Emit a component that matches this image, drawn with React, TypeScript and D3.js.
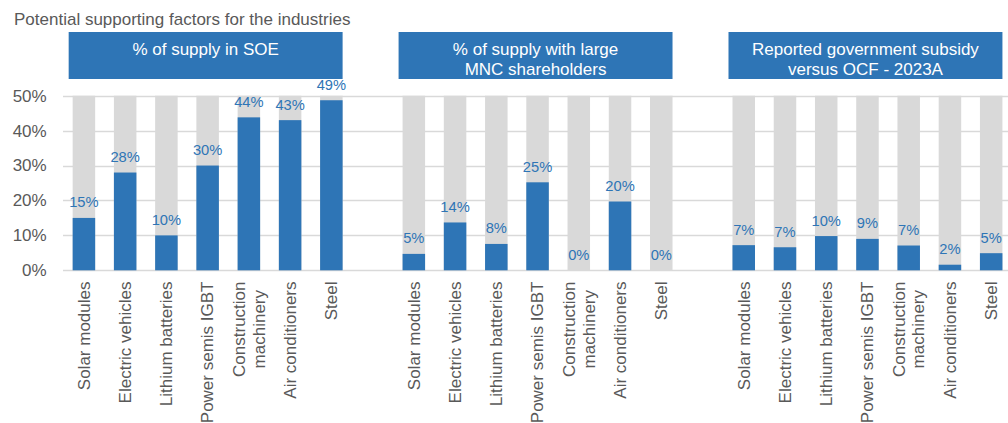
import React, { useEffect, useRef } from 'react';
import * as d3 from 'd3';

const TITLE = 'Potential supporting factors for the industries';
const categories = [
  'Solar modules',
  'Electric vehicles',
  'Lithium batteries',
  'Power semis IGBT',
  'Construction\nmachinery',
  'Air conditioners',
  'Steel',
];
const groupTitles = [
  ['% of supply in SOE'],
  ['% of supply with large', 'MNC shareholders'],
  ['Reported government subsidy', 'versus OCF - 2023A'],
];
const soeShare = [0.15, 0.28, 0.1, 0.3, 0.438, 0.43, 0.487];
const mncShare = [0.047, 0.137, 0.0755, 0.252, 0, 0.197, 0];
const subsidyShare = [0.072, 0.066, 0.098, 0.09, 0.071, 0.016, 0.049];
const yTicks = [0, 0.1, 0.2, 0.3, 0.4, 0.5];
const yMax = 0.5;

const W = 1008;
const H = 423;
const FONT = '"Liberation Sans", Arial, sans-serif';
const BLUE = '#2e75b6';
const GREY_BAR = '#d9d9d9';
const GRID = '#d9d9d9';
const TEXT = '#595959';

export default function App() {
  const ref = useRef<SVGSVGElement | null>(null);

  useEffect(() => {
    const svg = d3.select(ref.current);
    svg.selectAll('*').remove();

    const series = [soeShare, mncShare, subsidyShare];
    type Slot = { key: string; group: number; cat: number; value: number | null };
    const slots: Slot[] = [];
    series.forEach((vals, g) => {
      if (g > 0) slots.push({ key: `gap${g}`, group: g, cat: -1, value: null });
      vals.forEach((v, i) => slots.push({ key: `g${g}-${i}`, group: g, cat: i, value: v }));
    });

    const x = d3
      .scaleBand<string>()
      .domain(slots.map((s) => s.key))
      .range([63.3, 1011.8])
      .paddingInner(0.4544)
      .paddingOuter(0.2272);
    const y = d3.scaleLinear().domain([0, yMax]).range([270.3, 95.7]);

    // title
    svg
      .append('text')
      .attr('x', 14)
      .attr('y', 25)
      .attr('font-family', FONT)
      .attr('font-size', 17)
      .attr('fill', TEXT)
      .text(TITLE);

    // gridlines
    svg
      .append('g')
      .selectAll('line')
      .data(yTicks)
      .join('line')
      .attr('x1', 63)
      .attr('x2', W)
      .attr('y1', (d) => Math.round(y(d)) + 0.5)
      .attr('y2', (d) => Math.round(y(d)) + 0.5)
      .attr('stroke', GRID)
      .attr('stroke-width', 1.5);

    // y labels
    svg
      .append('g')
      .selectAll('text')
      .data(yTicks)
      .join('text')
      .attr('x', 46.7)
      .attr('y', (d) => y(d))
      .attr('dy', '0.35em')
      .attr('text-anchor', 'end')
      .attr('font-family', FONT)
      .attr('font-size', 17)
      .attr('fill', TEXT)
      .text((d) => d3.format('.0%')(d));

    const bars = slots.filter((s) => s.value !== null);
    const bw = x.bandwidth();

    // background bars
    svg
      .append('g')
      .selectAll('rect')
      .data(bars)
      .join('rect')
      .attr('x', (d) => x(d.key)!)
      .attr('width', bw)
      .attr('y', y(yMax))
      .attr('height', y(0) - y(yMax))
      .attr('fill', GREY_BAR);

    // value bars
    svg
      .append('g')
      .selectAll('rect')
      .data(bars)
      .join('rect')
      .attr('x', (d) => x(d.key)!)
      .attr('width', bw)
      .attr('y', (d) => y(d.value as number))
      .attr('height', (d) => y(0) - y(d.value as number))
      .attr('fill', BLUE);

    // data labels
    svg
      .append('g')
      .selectAll('text')
      .data(bars)
      .join('text')
      .attr('x', (d) => x(d.key)! + bw / 2)
      .attr('y', (d) => y(d.value as number) - 10.5)
      .attr('text-anchor', 'middle')
      .attr('font-family', FONT)
      .attr('font-size', 14.7)
      .attr('fill', BLUE)
      .text((d) => d3.format('.0%')(d.value as number));

    // category labels (rotated)
    const labelTop = 281.5;
    const lineH = 20;
    bars.forEach((d) => {
      const lines = categories[d.cat].split('\n');
      const cx = x(d.key)! + bw / 2;
      const g = svg.append('g').attr('transform', `translate(${cx},${labelTop}) rotate(-90)`);
      const texts = lines.map((ln, i) =>
        g
          .append('text')
          .attr('y', (i - (lines.length - 1) / 2) * lineH + 5.8)
          .attr('text-anchor', 'middle')
          .attr('font-family', FONT)
          .attr('font-size', 17)
          .attr('fill', TEXT)
          .text(ln)
      );
      const L = d3.max(texts, (t) => (t.node() as SVGTextElement).getComputedTextLength()) || 0;
      texts.forEach((t) => t.attr('x', -L / 2));
    });

    // group header boxes
    groupTitles.forEach((lines, g) => {
      const first = slots.find((s) => s.group === g && s.cat === 0)!;
      const last = slots.filter((s) => s.group === g && s.cat >= 0).slice(-1)[0];
      const x0 = x(first.key)! - 4;
      const x1 = x(last.key)! + bw;
      const top = 32;
      svg
        .append('rect')
        .attr('x', x0)
        .attr('y', top)
        .attr('width', x1 - x0)
        .attr('height', 47)
        .attr('fill', BLUE);
      lines.forEach((ln, i) => {
        svg
          .append('text')
          .attr('x', (x0 + x1) / 2)
          .attr('y', top + 23 + i * 19.5)
          .attr('text-anchor', 'middle')
          .attr('font-family', FONT)
          .attr('font-size', 17)
          .attr('fill', '#ffffff')
          .text(ln);
      });
    });
  }, []);

  return (
    <svg
      ref={ref}
      width={W}
      height={H}
      viewBox={`0 0 ${W} ${H}`}
      style={{ position: 'absolute', left: 0, top: 0, background: '#ffffff' }}
    />
  );
}
